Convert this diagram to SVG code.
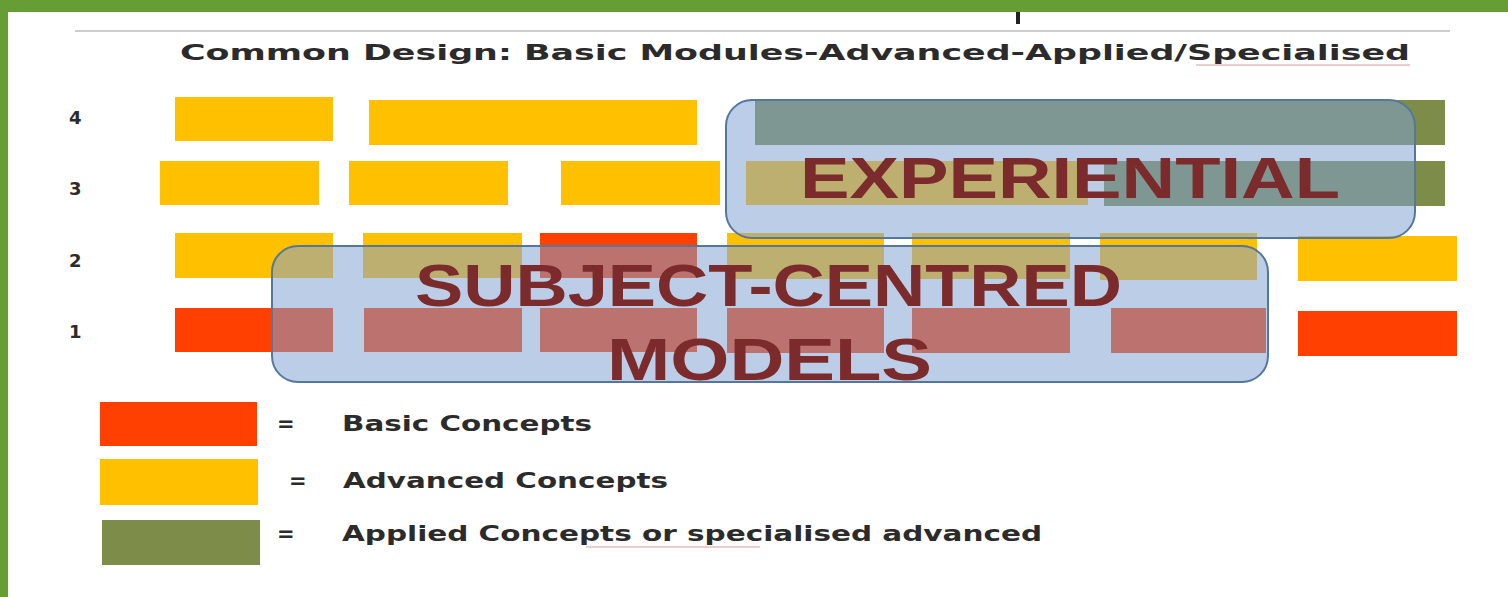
<svg xmlns="http://www.w3.org/2000/svg" width="1508" height="597" viewBox="0 0 1508 597">
<style>
.y{fill:#ffc000}
.r{fill:#ff4000}
.g{fill:#7d8c48}
.ov{fill:rgb(128,160,211);fill-opacity:0.53;stroke:#55779c;stroke-width:2}
.big{font-family:"Liberation Sans","Open Sans",sans-serif;font-weight:bold;fill:#7b2b2b}
.lab{font-family:"DejaVu Sans","Liberation Sans",sans-serif;font-weight:bold;fill:#2b2b2b}
.sp{stroke:#d9a0a0;stroke-width:1.5;fill:none;opacity:0.7}
</style>
<rect x="0" y="0" width="1508" height="597" fill="#ffffff"/>
<g id="frame">
<rect x="0" y="0" width="1508" height="12" fill="#669d34"/>
<rect x="0" y="0" width="8" height="597" fill="#669d34"/>
<rect x="1016" y="12" width="4" height="12" fill="#222"/>
<line x1="75" y1="31" x2="1450" y2="31" stroke="#bdbdbd" stroke-width="1.5"/>
</g>
<g id="title">
<text class="lab" x="180" y="60" font-size="21" textLength="1230" lengthAdjust="spacingAndGlyphs">Common Design: Basic Modules-Advanced-Applied/Specialised</text>
<path class="sp" d="M1196 65 L1410 65"/>
</g>
<g id="row-labels" class="lab" font-size="18">
<text x="69" y="124">4</text>
<text x="69" y="195">3</text>
<text x="69" y="267">2</text>
<text x="69" y="338">1</text>
</g>
<g id="row4">
<rect class="y" x="175" y="97" width="158" height="44"/>
<rect class="y" x="369" y="100" width="328" height="45"/>
<rect class="g" x="755" y="100" width="690" height="45"/>
</g>
<g id="row3">
<rect class="y" x="160" y="161" width="159" height="44"/>
<rect class="y" x="349" y="161" width="159" height="44"/>
<rect class="y" x="561" y="161" width="159" height="44"/>
<rect class="y" x="746" y="161" width="342" height="44"/>
<rect class="g" x="1104" y="161" width="341" height="45"/>
</g>
<g id="row2">
<rect class="y" x="175" y="233" width="158" height="45"/>
<rect class="y" x="363" y="233" width="159" height="45"/>
<rect class="r" x="540" y="233" width="157" height="45"/>
<rect class="y" x="727" y="233" width="157" height="46"/>
<rect class="y" x="912" y="233" width="158" height="46"/>
<rect class="y" x="1100" y="233" width="157" height="47"/>
<rect class="y" x="1298" y="236" width="159" height="45"/>
</g>
<g id="row1">
<rect class="r" x="175" y="308" width="158" height="44"/>
<rect class="r" x="364" y="308" width="158" height="44"/>
<rect class="r" x="540" y="308" width="157" height="44"/>
<rect class="r" x="727" y="308" width="157" height="45"/>
<rect class="r" x="912" y="308" width="158" height="45"/>
<rect class="r" x="1111" y="308" width="155" height="45"/>
<rect class="r" x="1298" y="311" width="159" height="45"/>
</g>
<g id="experiential">
<rect class="ov" x="726" y="100" width="689" height="138" rx="26"/>
<text class="big" x="800" y="198" font-size="57" textLength="540" lengthAdjust="spacingAndGlyphs">EXPERIENTIAL</text>
</g>
<g id="subject-centred">
<rect class="ov" x="272" y="246" width="996" height="136" rx="26"/>
<text class="big" x="415" y="306" font-size="60" textLength="707" lengthAdjust="spacingAndGlyphs">SUBJECT-CENTRED</text>
<text class="big" x="607" y="380" font-size="60" textLength="325" lengthAdjust="spacingAndGlyphs">MODELS</text>
</g>
<g id="legend-basic">
<rect class="r" x="100" y="402" width="157" height="44"/>
<text class="lab" x="277" y="431" font-size="21">=</text>
<text class="lab" x="342" y="431" font-size="21" textLength="250" lengthAdjust="spacingAndGlyphs">Basic Concepts</text>
</g>
<g id="legend-advanced">
<rect class="y" x="100" y="459" width="158" height="46"/>
<text class="lab" x="289" y="488" font-size="21">=</text>
<text class="lab" x="343" y="488" font-size="21" textLength="325" lengthAdjust="spacingAndGlyphs">Advanced Concepts</text>
</g>
<g id="legend-applied">
<rect class="g" x="102" y="520" width="158" height="45"/>
<text class="lab" x="277" y="541" font-size="21">=</text>
<text class="lab" x="342" y="541" font-size="21" textLength="700" lengthAdjust="spacingAndGlyphs">Applied Concepts or specialised advanced</text>
<path class="sp" d="M586 547 L760 547"/>
</g>
</svg>
